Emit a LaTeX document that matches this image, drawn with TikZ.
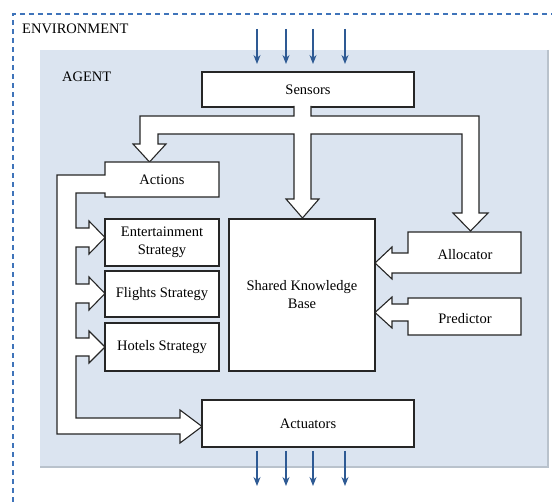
\documentclass[tikz,border=0pt]{standalone}
\usepackage{fontspec}
\setmainfont{Liberation Serif}
\usetikzlibrary{arrows.meta}
\definecolor{agentbg}{HTML}{DBE4F0}
\definecolor{agentedge}{HTML}{B9C2CC}
\definecolor{envblue}{HTML}{3F74BA}
\definecolor{flowblue}{HTML}{2E5A94}
\begin{document}
\begin{tikzpicture}[x=1pt,y=-1pt,
  txt/.style={font=\fontsize{14.5}{18}\selectfont, align=center, inner sep=0pt},
  box/.style={txt, draw=black!85, line width=1.1pt, fill=white},
  blk/.style={draw=black!85, line width=1.1pt, fill=white, line join=miter},
  flow/.style={draw=flowblue, line width=1.2pt, -{Stealth[length=9pt,width=7pt]}}]
\useasboundingbox (0,0) rectangle (552,502);
\fill[white] (0,0) rectangle (552,502);
% environment
\draw[envblue, line width=1.1pt, dash pattern=on 5pt off 4pt] (13,502) -- (13,14) -- (552,14);
\node[txt, anchor=base west] (env) at (22,33.5) {ENVIRONMENT};
% agent
\fill[agentbg] (40,50) rectangle (548,467);
\draw[agentedge, line width=1.5pt] (548,50) -- (548,467) -- (40,467);
\node[txt, anchor=base west] (agent) at (62,82) {AGENT};
% sensors
\node[box, minimum width=212pt, minimum height=35pt] (sensors) at (308,89.5) {Sensors};
\filldraw[blk] (294,106) -- (294,116) -- (140,116) -- (140,144) -- (133,144) -- (149.5,162) -- (166,144) -- (158,144) -- (158,134) -- (294,134) -- (294,199) -- (286,199) -- (302.5,218) -- (319,199) -- (311,199) -- (311,134) -- (462,134) -- (462,213) -- (453,213) -- (470.5,231) -- (488,213) -- (479,213) -- (479,116) -- (311,116) -- (311,106);
% actions and branches
\filldraw[blk] (105,162) -- (219,162) -- (219,197) -- (105,197) -- (105,193) -- (76,193) -- (76,228) -- (89,228) -- (89,221) -- (105,237.5) -- (89,254) -- (89,247) -- (76,247) -- (76,284) -- (89,284) -- (89,277) -- (105,293.5) -- (89,310) -- (89,303) -- (76,303) -- (76,338) -- (89,338) -- (89,331) -- (105,347) -- (89,363) -- (89,356) -- (76,356) -- (76,418) -- (180,418) -- (180,410) -- (202,426.5) -- (180,443) -- (180,434) -- (57,434) -- (57,175) -- (105,175) -- cycle;
\node[txt] (actions) at (162,180) {Actions};
% strategies
\node[box, minimum width=114pt, minimum height=47pt] (ent) at (162,242.5) {Entertainment\\Strategy};
\node[box, minimum width=114pt, minimum height=46pt] (fli) at (162,294) {Flights Strategy};
\node[box, minimum width=114pt, minimum height=48pt] (hot) at (162,347) {Hotels Strategy};
% shared knowledge base
\node[box, minimum width=146pt, minimum height=152pt] (skb) at (302,295) {Shared Knowledge\\Base};
% allocator, predictor
\filldraw[blk] (408,232) -- (521,232) -- (521,273) -- (392,273) -- (392,279) -- (375,263) -- (392,247) -- (392,253) -- (408,253) -- cycle;
\node[txt] (alloc) at (465,255) {Allocator};
\filldraw[blk] (408,298) -- (521,298) -- (521,335) -- (408,335) -- (408,321) -- (392,321) -- (392,328) -- (375,312.5) -- (392,297) -- (392,304) -- (408,304) -- cycle;
\node[txt] (pred) at (465,319) {Predictor};
% actuators
\node[box, minimum width=212pt, minimum height=47pt] (act) at (308,423.5) {Actuators};
% environment flows
\foreach \x [count=\i] in {257,286,313,345} {
  \coordinate (in\i) at (\x,29);
  \coordinate (out\i) at (\x,486);
  \draw[flow] (in\i) -- (\x,64);
  \draw[flow] (\x,451) -- (out\i);
}
\end{tikzpicture}
\end{document}
